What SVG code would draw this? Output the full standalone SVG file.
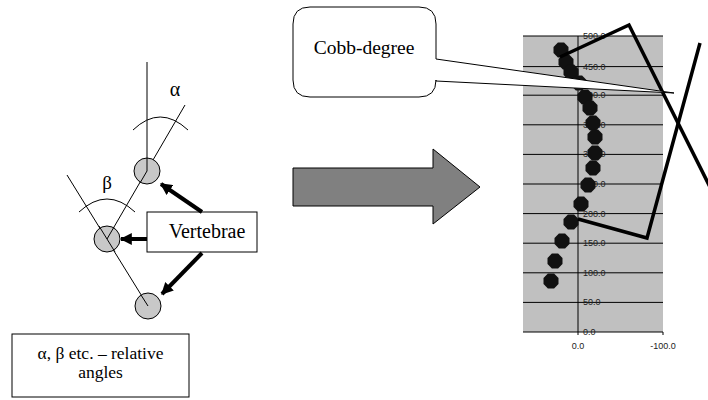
<svg xmlns="http://www.w3.org/2000/svg" width="708" height="400" viewBox="0 0 708 400">
<defs>
<style>
.thin{stroke:#000;stroke-width:1;fill:none}
.vert{fill:#c8c8c8;stroke:#000;stroke-width:1}
.ptr{stroke:#000;stroke-width:4;fill:none}
.grid{stroke:#000;stroke-width:1}
.dot{fill:#111}
.cobb{stroke:#000;stroke-width:3.5;fill:none;stroke-linejoin:miter}
</style>
<marker id="ah" viewBox="0 0 10 10" refX="9" refY="5" markerWidth="3" markerHeight="3" orient="auto" markerUnits="strokeWidth">
<path d="M0,0 L10,5 L0,10 z" fill="#000"/>
</marker>
<polygon id="oct" points="7.5,-3.1 3.1,-7.5 -3.1,-7.5 -7.5,-3.1 -7.5,3.1 -3.1,7.5 3.1,7.5 7.5,3.1"/>
</defs>
<rect width="708" height="400" fill="#fff"/>

<g id="axes-lines">
<line class="thin" x1="147" y1="62" x2="147" y2="171"/>
<line class="thin" x1="107" y1="239" x2="185" y2="105"/>
<line class="thin" x1="148" y1="306" x2="67" y2="175"/>
<path class="thin" d="M133,130 Q160,104 188,130"/>
<path class="thin" d="M79,212 Q107,186 135,212"/>
<text x="175" y="96" font-family="'Liberation Serif','Times New Roman',serif" font-size="20" text-anchor="middle">α</text>
<text x="107" y="189" font-family="'Liberation Serif','Times New Roman',serif" font-size="19" text-anchor="middle">β</text>
</g>

<g id="vertebra-1"><circle class="vert" cx="147" cy="171" r="13"/><line class="thin" x1="147" y1="158" x2="147" y2="171"/><line class="thin" x1="147" y1="171" x2="140" y2="183"/></g>
<g id="vertebra-2"><circle class="vert" cx="107" cy="239" r="13"/><line class="thin" x1="107" y1="239" x2="114" y2="227"/><line class="thin" x1="99" y1="226" x2="115" y2="252"/></g>
<g id="vertebra-3"><circle class="vert" cx="148" cy="306" r="13"/><line class="thin" x1="148" y1="306" x2="141" y2="295"/></g>

<g id="vertebrae-label">
<rect x="147" y="212" width="110" height="40" fill="#fff" stroke="#000" stroke-width="1"/>
<text x="207" y="238" font-family="'Liberation Serif','Times New Roman',serif" font-size="20" text-anchor="middle">Vertebrae</text>
</g>

<g id="connectors">
<line class="ptr" x1="202" y1="212" x2="161" y2="184" marker-end="url(#ah)"/>
<line class="ptr" x1="147" y1="239" x2="121" y2="239" marker-end="url(#ah)"/>
<line class="ptr" x1="202" y1="253" x2="162" y2="294" marker-end="url(#ah)"/>
</g>

<g id="angles-note">
<rect x="12" y="334" width="177" height="63" fill="#fff" stroke="#000" stroke-width="1"/>
<text x="100.5" y="359" font-family="'Liberation Serif','Times New Roman',serif" font-size="17.5" text-anchor="middle">α, β etc. – relative</text>
<text x="100.5" y="378" font-family="'Liberation Serif','Times New Roman',serif" font-size="17.5" text-anchor="middle">angles</text>
</g>

<g id="big-arrow">
<polygon points="293,168 433,168 433,149 480,187 433,224 433,206 293,206" fill="#808080" stroke="#000" stroke-width="1"/>
</g>

<g id="chart">
<rect x="523" y="36" width="140" height="296" fill="#c0c0c0"/>
<g class="grid">
<line x1="523" y1="36" x2="663" y2="36"/>
<line x1="523" y1="66.6" x2="663" y2="66.6"/>
<line x1="523" y1="95.2" x2="663" y2="95.2"/>
<line x1="523" y1="124.8" x2="663" y2="124.8"/>
<line x1="523" y1="154.4" x2="663" y2="154.4"/>
<line x1="523" y1="184" x2="663" y2="184"/>
<line x1="523" y1="213.6" x2="663" y2="213.6"/>
<line x1="523" y1="243.2" x2="663" y2="243.2"/>
<line x1="523" y1="272.8" x2="663" y2="272.8"/>
<line x1="523" y1="302.4" x2="663" y2="302.4"/>
<line x1="523" y1="332" x2="663" y2="332"/>
<line x1="578" y1="36" x2="578" y2="335"/>
<line x1="663" y1="332" x2="663" y2="335"/>
</g>
<g font-family="'Liberation Sans',Arial,sans-serif" font-size="9" fill="#222">
<text x="583" y="39">500.0</text>
<text x="583" y="69.6">450.0</text>
<text x="583" y="98.2">400.0</text>
<text x="583" y="127.8">350.0</text>
<text x="583" y="157.4">300.0</text>
<text x="583" y="187">250.0</text>
<text x="583" y="216.6">200.0</text>
<text x="583" y="246.2">150.0</text>
<text x="583" y="275.8">100.0</text>
<text x="583" y="305.4">50.0</text>
<text x="583" y="335">0.0</text>
<text x="578" y="349" text-anchor="middle">0.0</text>
<text x="663" y="349" text-anchor="middle">-100.0</text>
</g>
<g class="dot">
<use href="#oct" x="561" y="50"/>
<use href="#oct" x="566" y="62"/>
<use href="#oct" x="571" y="72"/>
<use href="#oct" x="579" y="83"/>
<use href="#oct" x="585" y="97"/>
<use href="#oct" x="590" y="108"/>
<use href="#oct" x="593" y="123"/>
<use href="#oct" x="595" y="137"/>
<use href="#oct" x="595" y="153"/>
<use href="#oct" x="593" y="168"/>
<use href="#oct" x="588" y="185"/>
<use href="#oct" x="581" y="204"/>
<use href="#oct" x="571" y="222"/>
<use href="#oct" x="562" y="241"/>
<use href="#oct" x="555" y="261"/>
<use href="#oct" x="551" y="281"/>
</g>
<polyline class="cobb" points="560,57 629,25 712,191"/>
<polyline class="cobb" points="700,43 647,238 578,219"/>
</g>

<g id="cobb-callout">
<path d="M310,7 H419 Q436,7 436,24 V59 L674,93 L436,81 V80 Q436,97 419,97 H310 Q293,97 293,80 V24 Q293,7 310,7 Z" fill="#fff" stroke="#000" stroke-width="1"/>
<text x="364" y="54" font-family="'Liberation Serif','Times New Roman',serif" font-size="19.5" text-anchor="middle">Cobb-degree</text>
</g>
</svg>
